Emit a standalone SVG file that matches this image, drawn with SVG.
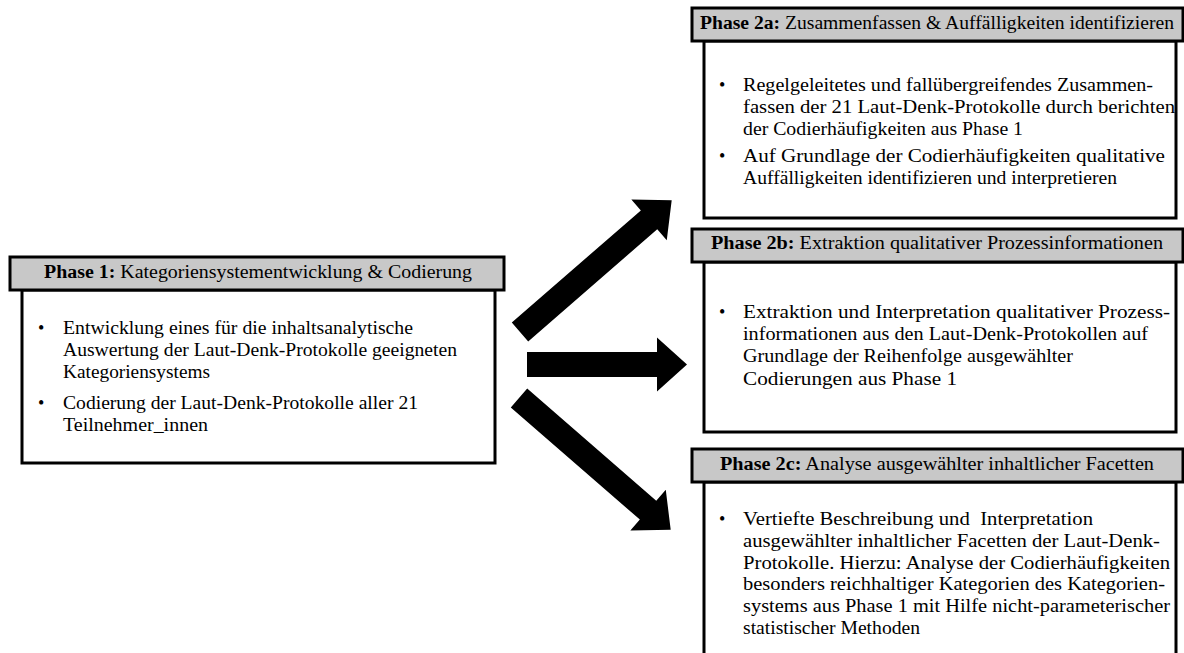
<svg xmlns="http://www.w3.org/2000/svg" width="1184" height="653" viewBox="0 0 1184 653">
<style>
.hd{fill:#c8c8c8;stroke:#000;stroke-width:3}
.bd{fill:#fff;stroke:#000;stroke-width:3}
text{font-family:"Liberation Serif","Times New Roman",serif;font-size:18px;fill:#000}
.b{font-weight:bold}
.arr{fill:#000}
</style>
<rect width="1184" height="653" fill="#fff"/>
<g id="connectors">
<path class="arr" transform="translate(527,364.5)" d="M0,-12.5 H130 V-27 L160,0 L130,27 V12.5 H0 Z"/>
<path class="arr" transform="translate(520,332) rotate(-41)" d="M0,-12.5 H171 V-27 L201,0 L171,27 V12.5 H0 Z"/>
<path class="arr" transform="translate(519,398) rotate(41)" d="M0,-12.5 H171 V-27 L201,0 L171,27 V12.5 H0 Z"/>
</g>
<g id="phase1">
<rect class="bd" x="22" y="290" width="473" height="173"/>
<rect class="hd" x="10" y="257" width="494" height="33"/>
<text x="44" y="278" textLength="428" lengthAdjust="spacingAndGlyphs"><tspan class="b">Phase 1:</tspan> Kategoriensystementwicklung &amp; Codierung</text>
<text x="38" y="334">•</text>
<text x="63" y="334" textLength="350" lengthAdjust="spacingAndGlyphs">Entwicklung eines für die inhaltsanalytische</text>
<text x="63" y="356" textLength="394" lengthAdjust="spacingAndGlyphs">Auswertung der Laut-Denk-Protokolle geeigneten</text>
<text x="63" y="378" textLength="147" lengthAdjust="spacingAndGlyphs">Kategoriensystems</text>
<text x="38" y="409">•</text>
<text x="63" y="409" textLength="355" lengthAdjust="spacingAndGlyphs">Codierung der Laut-Denk-Protokolle aller 21</text>
<text x="63" y="431" textLength="145" lengthAdjust="spacingAndGlyphs">Teilnehmer_innen</text>
</g>
<g id="phase2a">
<rect class="bd" x="704" y="41" width="472" height="177"/>
<rect class="hd" x="692" y="8" width="491" height="33"/>
<text x="700" y="29" textLength="474" lengthAdjust="spacingAndGlyphs"><tspan class="b">Phase 2a:</tspan> Zusammenfassen &amp; Auffälligkeiten identifizieren</text>
<text x="719" y="91">•</text>
<text x="743" y="91" textLength="410" lengthAdjust="spacingAndGlyphs">Regelgeleitetes und fallübergreifendes Zusammen-</text>
<text x="743" y="113" textLength="432" lengthAdjust="spacingAndGlyphs">fassen der 21 Laut-Denk-Protokolle durch berichten</text>
<text x="743" y="135" textLength="280" lengthAdjust="spacingAndGlyphs">der Codierhäufigkeiten aus Phase 1</text>
<text x="719" y="162">•</text>
<text x="743" y="162" textLength="422" lengthAdjust="spacingAndGlyphs">Auf Grundlage der Codierhäufigkeiten qualitative</text>
<text x="743" y="184" textLength="374" lengthAdjust="spacingAndGlyphs">Auffälligkeiten identifizieren und interpretieren</text>
</g>
<g id="phase2b">
<rect class="bd" x="704" y="262" width="472" height="170"/>
<rect class="hd" x="692" y="229" width="491" height="33"/>
<text x="711" y="249" textLength="452" lengthAdjust="spacingAndGlyphs"><tspan class="b">Phase 2b:</tspan> Extraktion qualitativer Prozessinformationen</text>
<text x="719" y="318">•</text>
<text x="743" y="318" textLength="427" lengthAdjust="spacingAndGlyphs">Extraktion und Interpretation qualitativer Prozess-</text>
<text x="743" y="340" textLength="405" lengthAdjust="spacingAndGlyphs">informationen aus den Laut-Denk-Protokollen auf</text>
<text x="743" y="362" textLength="330" lengthAdjust="spacingAndGlyphs">Grundlage der Reihenfolge ausgewählter</text>
<text x="743" y="385" textLength="214" lengthAdjust="spacingAndGlyphs">Codierungen aus Phase 1</text>
</g>
<g id="phase2c">
<rect class="bd" x="704" y="482" width="472" height="180"/>
<rect class="hd" x="692" y="449" width="491" height="33"/>
<text x="720" y="470" textLength="434" lengthAdjust="spacingAndGlyphs"><tspan class="b">Phase 2c:</tspan> Analyse ausgewählter inhaltlicher Facetten</text>
<text x="719" y="525">•</text>
<text x="743" y="525" textLength="350" lengthAdjust="spacingAndGlyphs" xml:space="preserve">Vertiefte Beschreibung und  Interpretation</text>
<text x="743" y="547" textLength="417" lengthAdjust="spacingAndGlyphs">ausgewählter inhaltlicher Facetten der Laut-Denk-</text>
<text x="743" y="569" textLength="427" lengthAdjust="spacingAndGlyphs">Protokolle. Hierzu: Analyse der Codierhäufigkeiten</text>
<text x="743" y="590" textLength="422" lengthAdjust="spacingAndGlyphs">besonders reichhaltiger Kategorien des Kategorien-</text>
<text x="743" y="612" textLength="427" lengthAdjust="spacingAndGlyphs">systems aus Phase 1 mit Hilfe nicht-parameterischer</text>
<text x="743" y="634" textLength="177" lengthAdjust="spacingAndGlyphs">statistischer Methoden</text>
</g>
</svg>
